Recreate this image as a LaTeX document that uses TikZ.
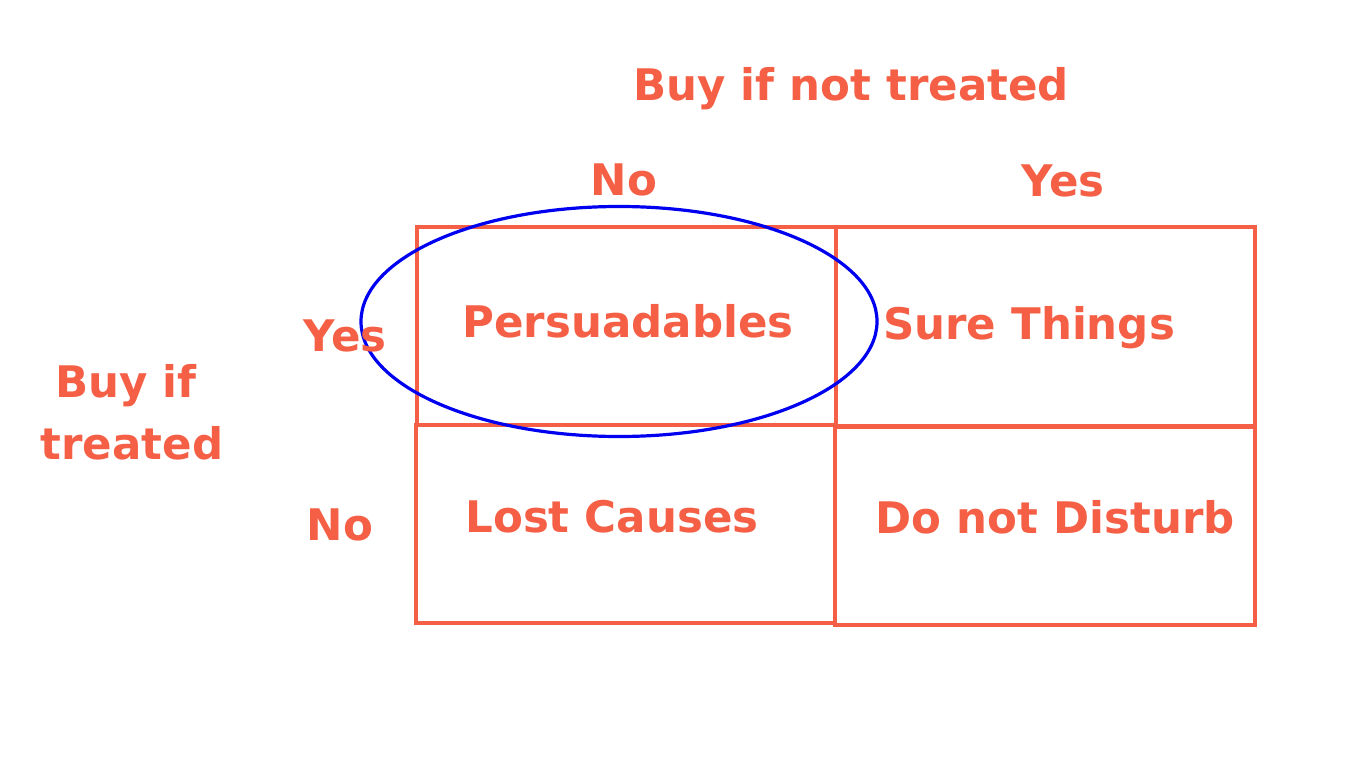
\documentclass[tikz,border=0pt]{standalone}
\usepackage{fontspec}
\setmainfont{DejaVu Sans}
\usetikzlibrary{shapes.geometric}
\definecolor{tom}{HTML}{F55F45}
\definecolor{ringblue}{HTML}{0000F0}
\begin{document}
\begin{tikzpicture}[x=1pt,y=-1pt,
  lbl/.style={text=tom,font=\fontsize{43.5}{50}\selectfont\bfseries,anchor=base,inner sep=0pt},
  cell/.style={draw=tom,line width=3.4pt,rectangle,inner sep=0pt},
  ring/.style={draw=ringblue,line width=3.2pt,ellipse,inner sep=0pt}]
\useasboundingbox (0,0) rectangle (1365,757);
\fill[white] (0,0) rectangle (1365,757);
% cells
\node[cell,minimum width=419pt,minimum height=198pt] (pers) at (626.5,326) {};
\node[cell,minimum width=419pt,minimum height=199pt] (sure) at (1045.5,326.5) {};
\node[cell,minimum width=419pt,minimum height=198pt] (lost) at (625.5,524) {};
\node[cell,minimum width=420pt,minimum height=198pt] (dnd) at (1045,526) {};
% ellipse
\node[ring,minimum width=516pt,minimum height=230pt] (focus) at (619,321.5) {};
% labels
\node[lbl] (title) at (851,101) {Buy if not treated};
\node[lbl] (colno) at (624,195) {No};
\node[lbl] (colyes) at (1063,196) {Yes};
\node[lbl] (rowyes) at (345,351) {Yes};
\node[lbl] (rowno) at (340,540) {No};
\node[lbl] (side1) at (126,397) {Buy if};
\node[lbl] (side2) at (132,459) {treated};
\node[lbl] (tpers) at (628,337) {Persuadables};
\node[lbl] (tsure) at (1029,339) {Sure Things};
\node[lbl] (tlost) at (612,532) {Lost Causes};
\node[lbl] (tdnd) at (1055,533) {Do not Disturb};
\end{tikzpicture}
\end{document}
